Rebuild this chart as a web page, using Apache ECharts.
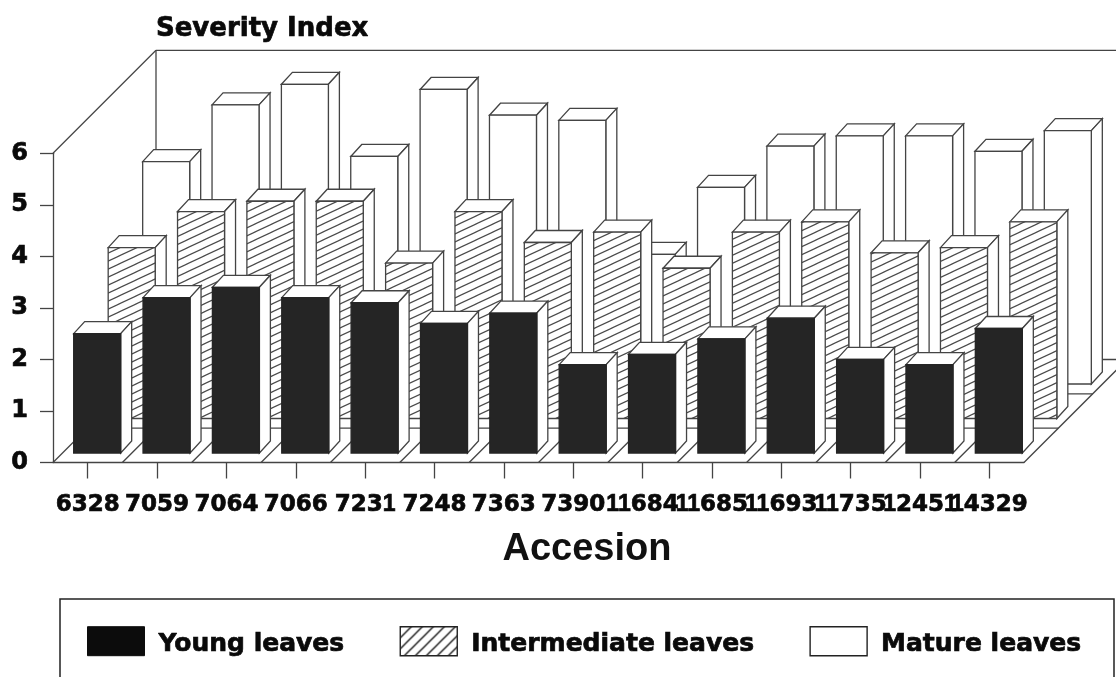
<!DOCTYPE html>
<html>
<head>
<meta charset="utf-8">
<title>Severity Index by accession</title>
<style>html,body{margin:0;padding:0;background:#fff}#chart{width:1116px;height:677px}</style>
<script src="https://cdn.jsdelivr.net/npm/echarts@6/dist/echarts.min.js"></script>
</head>
<body>
<div id="chart"></div>
<script>
// Severity readings per accession, one list per leaf age
const categories = ['6328','7059','7064','7066','7231','7248','7363','7390','11684','11685','11693','11735','12451','14329'];
const youngLeaves = [2.5,3.2,3.4,3.2,3.1,2.7,2.9,1.9,2.1,2.4,2.8,2.0,1.9,2.6];
const intermediateLeaves = [3.5,4.2,4.4,4.4,3.2,4.2,3.6,3.8,3.1,3.8,4.0,3.4,3.5,4.0];
const matureLeaves = [4.5,5.6,6.0,4.6,5.9,5.4,5.3,2.7,4.0,4.8,5.0,5.0,4.7,5.1];
const severityTicks = [0,1,2,3,4,5,6];

// Oblique projection of the floor: pixels of shift per row and per bar
const FLOOR_DEPTH = 103;
const ROW_SHIFT = 34.5;
const FLOOR_GAP = 9.5;
const BAR_WIDTH = 47;
const BAR_SIDE_X = 11;
const BAR_SIDE_Y = 12;
const INK = '#444444';
const LINE = 1.3;

// Opaque repeating tile of rising diagonal strokes
function hatch(w, h, lineWidth, color) {
  const c = document.createElement('canvas');
  c.width = w; c.height = h;
  const g = c.getContext('2d');
  g.fillStyle = '#ffffff';
  g.fillRect(0, 0, w, h);
  g.strokeStyle = color;
  g.lineWidth = lineWidth;
  for (let k = -2; k <= 2; k++) {
    g.beginPath();
    g.moveTo(-w, 2 * h + k * h);
    g.lineTo(2 * w, -h + k * h);
    g.stroke();
  }
  return { image: c, repeat: 'repeat' };
}
const barHatch = hatch(17, 8, 1.2, '#4a4a4a');
const keyHatch = hatch(11, 11, 1.5, '#222222');

function rowRenderer(row, faceFill, faceStroke) {
  return function (params, api) {
    const centre = api.coord([api.value(0), 0]);
    const shift = row * ROW_SHIFT;
    const left = centre[0] - BAR_WIDTH / 2 + FLOOR_GAP + shift;
    const right = left + BAR_WIDTH;
    const bottom = centre[1] - FLOOR_GAP - shift;
    const top = api.coord([api.value(0), api.value(1)])[1] - shift;
    const edge = { stroke: INK, lineWidth: LINE };
    return {
      type: 'group',
      children: [
        { type: 'polygon', shape: { points: [[left, top], [left + BAR_SIDE_X, top - BAR_SIDE_Y], [right + BAR_SIDE_X, top - BAR_SIDE_Y], [right, top]] }, style: Object.assign({ fill: '#fff' }, edge) },
        { type: 'polygon', shape: { points: [[right, top], [right + BAR_SIDE_X, top - BAR_SIDE_Y], [right + BAR_SIDE_X, bottom - BAR_SIDE_Y], [right, bottom]] }, style: Object.assign({ fill: '#fff' }, edge) },
        { type: 'rect', shape: { x: left, y: top, width: BAR_WIDTH, height: bottom - top }, style: { fill: faceFill, stroke: faceStroke, lineWidth: LINE } }
      ]
    };
  };
}

// Back wall, left wall and floor grid, placed from the axis scales
function renderRoom(params, api) {
  const band = api.size([1, 0])[0];
  const origin = api.coord([0, 0]);
  const x0 = origin[0] - band / 2;
  const y0 = origin[1];
  const yTop = api.coord([0, severityTicks[severityTicks.length - 1]])[1];
  const x1 = x0 + band * categories.length;
  const d = FLOOR_DEPTH;
  const seg = (a, b, c, e) => ({ type: 'line', shape: { x1: a, y1: b, x2: c, y2: e }, style: { stroke: INK, lineWidth: LINE } });
  const parts = [
    seg(x0, yTop, x0 + d, yTop - d),
    seg(x0 + d, yTop - d, x0 + d, y0 - d),
    seg(x0 + d, yTop - d, 1116, yTop - d),
    seg(x0 + d, y0 - d, 1116, y0 - d)
  ];
  for (let r = 1; r < 3; r++) {
    const t = r * d / 3;
    parts.push(seg(x0 + t, y0 - t, x1 + t, y0 - t));
  }
  for (let i = 0; i <= categories.length; i++) {
    const bx = x0 + band * i;
    parts.push(seg(bx, y0, bx + d, y0 - d));
  }
  return { type: 'group', children: parts };
}

const toRow = values => values.map((v, i) => [i, v]);
// Thin outline on the glyphs gives the heavy plotter lettering
const labelStyle = { fontFamily: 'DejaVu Sans', fontWeight: 'bold', color: '#0a0a0a', textBorderColor: '#0a0a0a', textBorderWidth: 0.7 };

const chart = echarts.init(document.getElementById('chart'), null, { renderer: 'canvas' });
chart.setOption({
  animation: false,
  backgroundColor: '#ffffff',
  grid: { left: 53, right: 92, top: 153.3, bottom: 214.5, containLabel: false },
  xAxis: {
    type: 'category',
    data: categories,
    name: 'Accesion',
    nameLocation: 'middle',
    nameGap: 68,
    nameTextStyle: { fontFamily: 'Liberation Sans', fontWeight: 'bold', fontSize: 38, color: '#111', padding: [0, 0, 0, 97] },
    axisLine: { show: true, lineStyle: { color: INK, width: LINE } },
    axisTick: { show: true, alignWithLabel: true, length: 16, lineStyle: { color: INK, width: LINE } },
    axisLabel: {
      interval: 0,
      hideOverlap: false,
      margin: 31,
      formatter: v => v.replace(/1+|[^1]+/g, s => (s[0] === '1' ? `{one|${s}}` : `{num|${s}}`)),
      rich: {
        num: Object.assign({ fontSize: 23 }, labelStyle),
        one: Object.assign({}, labelStyle, { fontFamily: 'Liberation Sans', fontSize: 23 })
      }
    }
  },
  yAxis: {
    type: 'value',
    min: 0,
    max: 6,
    interval: 1,
    name: 'Severity Index',
    nameLocation: 'end',
    nameGap: 111,
    nameTextStyle: Object.assign({ fontSize: 26, align: 'left', padding: [0, 0, 0, 103] }, labelStyle),
    splitLine: { show: false },
    axisLine: { show: true, lineStyle: { color: INK, width: LINE } },
    axisTick: { show: true, length: 13, lineStyle: { color: INK, width: LINE } },
    axisLabel: Object.assign({ fontSize: 24, margin: 25 }, labelStyle)
  },
  legend: {
    left: 87,
    top: 626,
    padding: 0,
    itemWidth: 57,
    itemHeight: 29,
    itemGap: 55,
    formatter: name => `{t|${name}}`,
    textStyle: Object.assign({ fontSize: 25, padding: [0, 0, 0, 9], rich: { t: Object.assign({ fontSize: 25, padding: [7, 0, 0, 0] }, labelStyle) } }, labelStyle),
    data: [
      { name: 'Young leaves', icon: 'rect', itemStyle: { color: '#0c0c0c', borderColor: '#0c0c0c', borderWidth: 1 } },
      { name: 'Intermediate leaves', icon: 'rect', itemStyle: { color: keyHatch, borderColor: '#222', borderWidth: 1.4 } },
      { name: 'Mature leaves', icon: 'rect', itemStyle: { color: '#fff', borderColor: '#222', borderWidth: 1.4 } }
    ]
  },
  // Frame round the key; it runs off the lower edge of the page
  graphic: [{
    type: 'polyline',
    silent: true,
    shape: { points: [[60, 700], [60, 599], [1114, 599], [1114, 700]] },
    style: { fill: 'none', stroke: '#222', lineWidth: 1.5 }
  }],
  series: [
    { type: 'custom', name: 'room', silent: true, clip: false, data: [[0, 0]], encode: { x: 0, y: 1 }, renderItem: renderRoom },
    { type: 'custom', name: 'Mature leaves', silent: true, clip: false, data: toRow(matureLeaves), encode: { x: 0, y: 1 }, renderItem: rowRenderer(2, '#ffffff', INK) },
    { type: 'custom', name: 'Intermediate leaves', silent: true, clip: false, data: toRow(intermediateLeaves), encode: { x: 0, y: 1 }, renderItem: rowRenderer(1, barHatch, INK) },
    { type: 'custom', name: 'Young leaves', silent: true, clip: false, data: toRow(youngLeaves), encode: { x: 0, y: 1 }, renderItem: rowRenderer(0, '#252525', '#252525') }
  ]
});
</script>
</body>
</html>
